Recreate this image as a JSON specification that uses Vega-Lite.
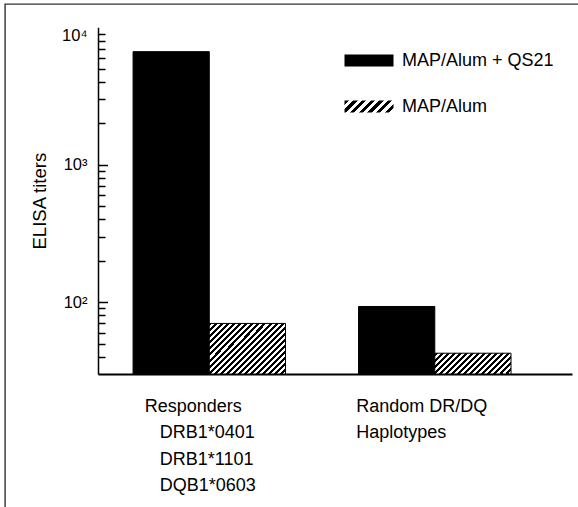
{
  "$schema": "https://vega.github.io/schema/vega-lite/v6.json",
  "autosize": "none",
  "width": 573,
  "height": 503,
  "padding": {"left": 5, "top": 4, "right": 0, "bottom": 0},
  "background": "white",
  "view": {"stroke": "#333333", "strokeWidth": 1.4, "strokeDash": [573, 1076, 520]},
  "config": {
    "font": "Liberation Sans",
    "style": {"cell": {"stroke": "#333333", "strokeWidth": 1.4, "strokeDash": [573, 1076, 520]}},
    "axis": {"labelFont": "Liberation Sans", "titleFont": "Liberation Sans", "labelColor": "black", "titleColor": "black", "grid": false}
  },
  "data": {
    "values": [
      {"group": "Responders", "series": "MAP/Alum + QS21", "titer": 6650},
      {"group": "Responders", "series": "MAP/Alum", "titer": 70},
      {"group": "Random", "series": "MAP/Alum + QS21", "titer": 93},
      {"group": "Random", "series": "MAP/Alum", "titer": 42.5}
    ]
  },
  "encoding": {
    "x": {
      "field": "group", "type": "nominal", "sort": ["Responders", "Random"],
      "scale": {"domain": ["Responders", "Random"], "range": [93, 567], "paddingInner": 0.324, "paddingOuter": 0.213, "align": 0.365},
      "axis": {
        "orient": "bottom", "offset": -133, "title": null, "ticks": false,
        "domainWidth": 2, "domainColor": "black", "labelAngle": 0,
        "labelAlign": "left", "labelBaseline": "top", "labelPadding": 23,
        "labelFontSize": 18, "labelLineHeight": 26.5, "labelOverlap": false, "labelLimit": 0,
        "labelOffset": {"condition": {"test": "datum.value === 'Responders'", "value": -64.5}, "value": -78.5},
        "labelExpr": "datum.value === 'Responders' ? ['Responders', '\u200b\u00a0\u00a0\u00a0DRB1*0401', '\u200b\u00a0\u00a0\u00a0DRB1*1101', '\u200b\u00a0\u00a0\u00a0DQB1*0603'] : ['Random DR/DQ', 'Haplotypes']"
      }
    },
    "xOffset": {
      "field": "series", "type": "nominal", "sort": ["MAP/Alum + QS21", "MAP/Alum"],
      "scale": {"domain": ["MAP/Alum + QS21", "MAP/Alum"], "paddingInner": 0, "paddingOuter": 0}
    },
    "y": {
      "field": "titer", "type": "quantitative",
      "scale": {"type": "log", "domain": [30, 10000], "range": [370, 23.3], "nice": false},
      "axis": {
        "orient": "left", "offset": -93, "title": "ELISA titers", "titleFontSize": 18.5, "titleFontWeight": "normal", "titlePadding": 12,
        "domainColor": "black", "domainWidth": 1.5, "tickColor": "black", "tickWidth": 1.5,
        "tickSize": {"condition": {"test": "datum.value == 100 || datum.value == 1000 || datum.value == 10000", "value": -9.5}, "value": -7},
        "tickOpacity": {"condition": {"test": "datum.value == 10000", "value": 0}, "value": 1},
        "values": [40, 50, 60, 70, 80, 90, 100, 200, 300, 400, 500, 600, 700, 800, 900, 1000, 2000, 3000, 4000, 5000, 6000, 7000, 8000, 9000, 10000],
        "labelExpr": "datum.value == 100 ? '10²' : datum.value == 1000 ? '10³' : datum.value == 10000 ? '10⁴' : ''",
        "labelFontSize": 16.5, "labelPadding": 20.5, "labelFlush": true, "labelOverlap": false
      }
    },
    "y2": {"datum": 30}
  },
  "layer": [
    {
      "transform": [{"filter": "datum.series === 'MAP/Alum + QS21'"}],
      "mark": {
        "type": "bar", "stroke": "black", "strokeWidth": 1,
        "fill": {"expr": "(datum.series || datum.label) === 'MAP/Alum' ? {gradient: 'linear', x1: 0, y1: 0, x2: 1.174, y2: 0.288, stops: [{offset: 0, color: '#000'}, {offset: 0.0714, color: '#000'}, {offset: 0.0714, color: '#fff'}, {offset: 0.1429, color: '#fff'}, {offset: 0.1429, color: '#000'}, {offset: 0.2143, color: '#000'}, {offset: 0.2143, color: '#fff'}, {offset: 0.2857, color: '#fff'}, {offset: 0.2857, color: '#000'}, {offset: 0.3571, color: '#000'}, {offset: 0.3571, color: '#fff'}, {offset: 0.4286, color: '#fff'}, {offset: 0.4286, color: '#000'}, {offset: 0.5, color: '#000'}, {offset: 0.5, color: '#fff'}, {offset: 0.5714, color: '#fff'}, {offset: 0.5714, color: '#000'}, {offset: 0.6429, color: '#000'}, {offset: 0.6429, color: '#fff'}, {offset: 0.7143, color: '#fff'}, {offset: 0.7143, color: '#000'}, {offset: 0.7857, color: '#000'}, {offset: 0.7857, color: '#fff'}, {offset: 0.8571, color: '#fff'}, {offset: 0.8571, color: '#000'}, {offset: 0.9286, color: '#000'}, {offset: 0.9286, color: '#fff'}, {offset: 1, color: '#fff'}]} : 'black'"}
      },
      "encoding": {
        "opacity": {
          "field": "series", "type": "ordinal",
          "scale": {"domain": ["MAP/Alum + QS21", "MAP/Alum"], "range": [1, 1]},
          "legend": {
            "orient": "none", "legendX": 339, "legendY": 31.5, "title": null, "padding": 0,
            "symbolType": "M-1,-0.245H1V0.245H-1Z", "symbolSize": 2401,
            "symbolStrokeColor": "black", "symbolStrokeWidth": 1,
            "labelFontSize": 18, "labelFont": "Liberation Sans", "labelColor": "black", "labelOffset": 8,
            "rowPadding": 12, "labelLimit": 0
          }
        }
      }
    },
    {
      "transform": [{"filter": "datum.series === 'MAP/Alum' && datum.group === 'Responders'"}],
      "mark": {"type": "bar", "stroke": "black", "strokeWidth": 1, "fill": {"gradient": "linear", "x1": 0, "y1": 0, "x2": 1.156, "y2": 0.764, "stops": [
        {"offset": 0, "color": "#000"}, {"offset": 0.0238, "color": "#000"},
        {"offset": 0.0238, "color": "#fff"}, {"offset": 0.0476, "color": "#fff"},
        {"offset": 0.0476, "color": "#000"}, {"offset": 0.0714, "color": "#000"},
        {"offset": 0.0714, "color": "#fff"}, {"offset": 0.0952, "color": "#fff"},
        {"offset": 0.0952, "color": "#000"}, {"offset": 0.119, "color": "#000"},
        {"offset": 0.119, "color": "#fff"}, {"offset": 0.1429, "color": "#fff"},
        {"offset": 0.1429, "color": "#000"}, {"offset": 0.1667, "color": "#000"},
        {"offset": 0.1667, "color": "#fff"}, {"offset": 0.1905, "color": "#fff"},
        {"offset": 0.1905, "color": "#000"}, {"offset": 0.2143, "color": "#000"},
        {"offset": 0.2143, "color": "#fff"}, {"offset": 0.2381, "color": "#fff"},
        {"offset": 0.2381, "color": "#000"}, {"offset": 0.2619, "color": "#000"},
        {"offset": 0.2619, "color": "#fff"}, {"offset": 0.2857, "color": "#fff"},
        {"offset": 0.2857, "color": "#000"}, {"offset": 0.3095, "color": "#000"},
        {"offset": 0.3095, "color": "#fff"}, {"offset": 0.3333, "color": "#fff"},
        {"offset": 0.3333, "color": "#000"}, {"offset": 0.3571, "color": "#000"},
        {"offset": 0.3571, "color": "#fff"}, {"offset": 0.381, "color": "#fff"},
        {"offset": 0.381, "color": "#000"}, {"offset": 0.4048, "color": "#000"},
        {"offset": 0.4048, "color": "#fff"}, {"offset": 0.4286, "color": "#fff"},
        {"offset": 0.4286, "color": "#000"}, {"offset": 0.4524, "color": "#000"},
        {"offset": 0.4524, "color": "#fff"}, {"offset": 0.4762, "color": "#fff"},
        {"offset": 0.4762, "color": "#000"}, {"offset": 0.5, "color": "#000"},
        {"offset": 0.5, "color": "#fff"}, {"offset": 0.5238, "color": "#fff"},
        {"offset": 0.5238, "color": "#000"}, {"offset": 0.5476, "color": "#000"},
        {"offset": 0.5476, "color": "#fff"}, {"offset": 0.5714, "color": "#fff"},
        {"offset": 0.5714, "color": "#000"}, {"offset": 0.5952, "color": "#000"},
        {"offset": 0.5952, "color": "#fff"}, {"offset": 0.619, "color": "#fff"},
        {"offset": 0.619, "color": "#000"}, {"offset": 0.6429, "color": "#000"},
        {"offset": 0.6429, "color": "#fff"}, {"offset": 0.6667, "color": "#fff"},
        {"offset": 0.6667, "color": "#000"}, {"offset": 0.6905, "color": "#000"},
        {"offset": 0.6905, "color": "#fff"}, {"offset": 0.7143, "color": "#fff"},
        {"offset": 0.7143, "color": "#000"}, {"offset": 0.7381, "color": "#000"},
        {"offset": 0.7381, "color": "#fff"}, {"offset": 0.7619, "color": "#fff"},
        {"offset": 0.7619, "color": "#000"}, {"offset": 0.7857, "color": "#000"},
        {"offset": 0.7857, "color": "#fff"}, {"offset": 0.8095, "color": "#fff"},
        {"offset": 0.8095, "color": "#000"}, {"offset": 0.8333, "color": "#000"},
        {"offset": 0.8333, "color": "#fff"}, {"offset": 0.8571, "color": "#fff"},
        {"offset": 0.8571, "color": "#000"}, {"offset": 0.881, "color": "#000"},
        {"offset": 0.881, "color": "#fff"}, {"offset": 0.9048, "color": "#fff"},
        {"offset": 0.9048, "color": "#000"}, {"offset": 0.9286, "color": "#000"},
        {"offset": 0.9286, "color": "#fff"}, {"offset": 0.9524, "color": "#fff"},
        {"offset": 0.9524, "color": "#000"}, {"offset": 0.9762, "color": "#000"},
        {"offset": 0.9762, "color": "#fff"}, {"offset": 1, "color": "#fff"}
      ]}}
    },
    {
      "transform": [{"filter": "datum.series === 'MAP/Alum' && datum.group === 'Random'"}],
      "mark": {"type": "bar", "stroke": "black", "strokeWidth": 1, "fill": {"gradient": "linear", "x1": 0, "y1": 0, "x2": 1.181, "y2": 0.308, "stops": [
        {"offset": 0, "color": "#000"}, {"offset": 0.03125, "color": "#000"},
        {"offset": 0.03125, "color": "#fff"}, {"offset": 0.0625, "color": "#fff"},
        {"offset": 0.0625, "color": "#000"}, {"offset": 0.09375, "color": "#000"},
        {"offset": 0.09375, "color": "#fff"}, {"offset": 0.125, "color": "#fff"},
        {"offset": 0.125, "color": "#000"}, {"offset": 0.15625, "color": "#000"},
        {"offset": 0.15625, "color": "#fff"}, {"offset": 0.1875, "color": "#fff"},
        {"offset": 0.1875, "color": "#000"}, {"offset": 0.21875, "color": "#000"},
        {"offset": 0.21875, "color": "#fff"}, {"offset": 0.25, "color": "#fff"},
        {"offset": 0.25, "color": "#000"}, {"offset": 0.28125, "color": "#000"},
        {"offset": 0.28125, "color": "#fff"}, {"offset": 0.3125, "color": "#fff"},
        {"offset": 0.3125, "color": "#000"}, {"offset": 0.34375, "color": "#000"},
        {"offset": 0.34375, "color": "#fff"}, {"offset": 0.375, "color": "#fff"},
        {"offset": 0.375, "color": "#000"}, {"offset": 0.40625, "color": "#000"},
        {"offset": 0.40625, "color": "#fff"}, {"offset": 0.4375, "color": "#fff"},
        {"offset": 0.4375, "color": "#000"}, {"offset": 0.46875, "color": "#000"},
        {"offset": 0.46875, "color": "#fff"}, {"offset": 0.5, "color": "#fff"},
        {"offset": 0.5, "color": "#000"}, {"offset": 0.53125, "color": "#000"},
        {"offset": 0.53125, "color": "#fff"}, {"offset": 0.5625, "color": "#fff"},
        {"offset": 0.5625, "color": "#000"}, {"offset": 0.59375, "color": "#000"},
        {"offset": 0.59375, "color": "#fff"}, {"offset": 0.625, "color": "#fff"},
        {"offset": 0.625, "color": "#000"}, {"offset": 0.65625, "color": "#000"},
        {"offset": 0.65625, "color": "#fff"}, {"offset": 0.6875, "color": "#fff"},
        {"offset": 0.6875, "color": "#000"}, {"offset": 0.71875, "color": "#000"},
        {"offset": 0.71875, "color": "#fff"}, {"offset": 0.75, "color": "#fff"},
        {"offset": 0.75, "color": "#000"}, {"offset": 0.78125, "color": "#000"},
        {"offset": 0.78125, "color": "#fff"}, {"offset": 0.8125, "color": "#fff"},
        {"offset": 0.8125, "color": "#000"}, {"offset": 0.84375, "color": "#000"},
        {"offset": 0.84375, "color": "#fff"}, {"offset": 0.875, "color": "#fff"},
        {"offset": 0.875, "color": "#000"}, {"offset": 0.90625, "color": "#000"},
        {"offset": 0.90625, "color": "#fff"}, {"offset": 0.9375, "color": "#fff"},
        {"offset": 0.9375, "color": "#000"}, {"offset": 0.96875, "color": "#000"},
        {"offset": 0.96875, "color": "#fff"}, {"offset": 1, "color": "#fff"}
      ]}}
    }
  ]
}
